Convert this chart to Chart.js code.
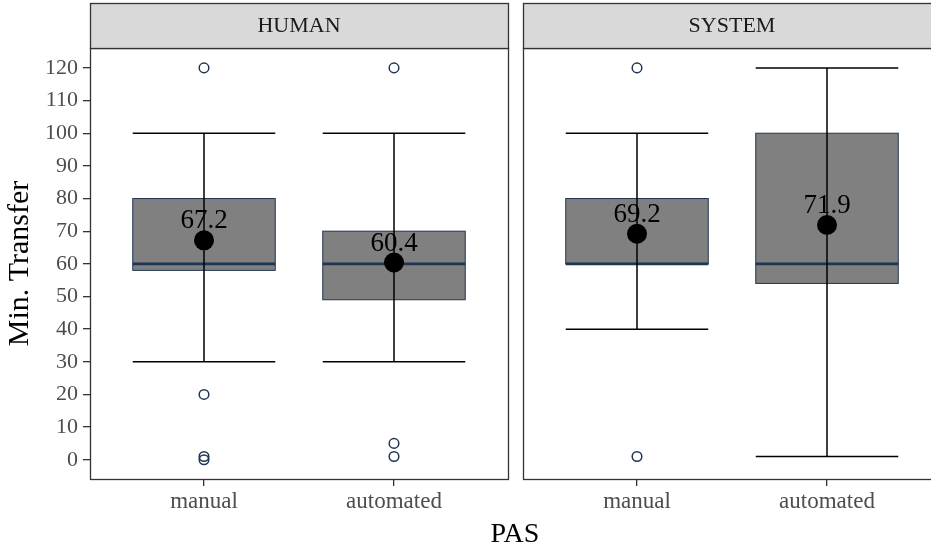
<!DOCTYPE html>
<html>
<head>
<meta charset="utf-8">
<script src="https://cdn.jsdelivr.net/npm/chart.js@4/dist/chart.umd.min.js"></script>
<style>
  html, body { margin: 0; padding: 0; background: #fff; overflow: hidden; }
  #wrap { position: relative; width: 931px; height: 548px; overflow: hidden; }
  .panel { position: absolute; top: 0; height: 548px; }
  #p1 { left: 0; width: 515px; }
  #p2 { left: 515px; width: 433px; }
  #xtitle { position: absolute; left: 415px; width: 200px; top: 519px; text-align: center;
    font: 28px 'Liberation Serif', 'DejaVu Serif', serif; line-height: 27px; color: #000; }
</style>
</head>
<body>
<div id="wrap">
  <div class="panel" id="p1"><canvas id="c1"></canvas></div>
  <div class="panel" id="p2"><canvas id="c2"></canvas></div>
  <div id="xtitle">PAS</div>
</div>
<script>
// facets and categories
const panels = ['HUMAN', 'SYSTEM'];
const categories = ['manual', 'automated'];
const yTicks = [0, 10, 20, 30, 40, 50, 60, 70, 80, 90, 100, 110, 120];

// box stats per panel, per category
const whiskerLow  = [[30, 30], [40, 1]];
const q1          = [[58, 49], [60, 54]];
const medians     = [[60, 60], [60, 60]];
const q3          = [[80, 70], [80, 100]];
const whiskerHigh = [[100, 100], [100, 120]];
const means       = [[67.2, 60.4], [69.2, 71.9]];
const outliers    = [[[120, 20, 1, 0], [120, 5, 1]], [[120, 1], []]];

const serif = "'Liberation Serif', 'DejaVu Serif', serif";
Chart.defaults.font.family = serif;

const navy = '#1F3552';
const boxHalf = 0.375;

const facetPlugin = {
  id: 'facet',
  beforeDatasetsDraw(chart) {
    const p = chart.options.plugins.facet.panel;
    const ctx = chart.ctx;
    const xs = chart.scales.x, ys = chart.scales.y;
    ctx.save();
    categories.forEach((c, i) => {
      const x = i + 1;
      const l = xs.getPixelForValue(x - boxHalf), r = xs.getPixelForValue(x + boxHalf);
      const cx = xs.getPixelForValue(x);
      const top = ys.getPixelForValue(q3[p][i]), bot = ys.getPixelForValue(q1[p][i]);
      // box
      ctx.fillStyle = '#808080';
      ctx.fillRect(l, top, r - l, bot - top);
      ctx.strokeStyle = navy;
      ctx.lineWidth = 1;
      ctx.strokeRect(l, top, r - l, bot - top);
      // median
      const my = ys.getPixelForValue(medians[p][i]);
      ctx.lineWidth = 2.6;
      ctx.beginPath(); ctx.moveTo(l, my); ctx.lineTo(r, my); ctx.stroke();
      // error bar
      const wl = ys.getPixelForValue(whiskerLow[p][i]), wh = ys.getPixelForValue(whiskerHigh[p][i]);
      ctx.strokeStyle = '#000';
      ctx.lineWidth = 1.5;
      ctx.beginPath();
      ctx.moveTo(cx, wl); ctx.lineTo(cx, wh);
      ctx.moveTo(l, wl); ctx.lineTo(r, wl);
      ctx.moveTo(l, wh); ctx.lineTo(r, wh);
      ctx.stroke();
    });
    ctx.restore();
  },
  afterDatasetsDraw(chart) {
    const p = chart.options.plugins.facet.panel;
    const ctx = chart.ctx;
    const xs = chart.scales.x, ys = chart.scales.y;
    const a = chart.chartArea;
    ctx.save();
    // mean labels
    ctx.fillStyle = '#000';
    ctx.font = '27px ' + serif;
    ctx.textAlign = 'center';
    ctx.textBaseline = 'alphabetic';
    categories.forEach((c, i) => {
      const x = xs.getPixelForValue(i + 1);
      const y = ys.getPixelForValue(means[p][i]);
      ctx.fillText(means[p][i].toFixed(1), x, y - 12);
    });
    // panel border
    ctx.strokeStyle = '#333';
    ctx.lineWidth = 1.3;
    ctx.strokeRect(Math.round(a.left) + 0.5, Math.round(a.top) + 0.5,
      Math.round(a.right - a.left), Math.round(a.bottom - a.top));
    // strip
    const st = 3;
    ctx.fillStyle = '#d9d9d9';
    ctx.fillRect(a.left, st, a.right - a.left, a.top - st);
    ctx.strokeRect(Math.round(a.left) + 0.5, st + 0.5, Math.round(a.right - a.left), Math.round(a.top - st));
    ctx.fillStyle = '#1a1a1a';
    ctx.font = '22px ' + serif;
    ctx.textBaseline = 'middle';
    ctx.fillText(panels[p], (a.left + a.right) / 2, (st + a.top) / 2 + 1);
    ctx.restore();
  }
};

function makeChart(id, p, showY) {
  const outlierPts = [];
  categories.forEach((c, i) => outliers[p][i].forEach(v => outlierPts.push({ x: i + 1, y: v })));
  const meanPts = categories.map((c, i) => ({ x: i + 1, y: means[p][i] }));
  return new Chart(document.getElementById(id), {
    type: 'scatter',
    data: {
      datasets: [
        { label: 'mean', data: meanPts, pointRadius: 10, pointBackgroundColor: '#000',
          pointBorderColor: '#000', pointBorderWidth: 0 },
        { label: 'outliers', data: outlierPts, pointRadius: 4.8, pointBackgroundColor: 'rgba(0,0,0,0)',
          pointBorderColor: navy, pointBorderWidth: 1.5 }
      ]
    },
    options: {
      responsive: true,
      maintainAspectRatio: false,
      animation: false,
      events: [],
      layout: { autoPadding: false, padding: { top: 48, bottom: 0, left: showY ? 0 : 8, right: 7 } },
      plugins: {
        legend: { display: false },
        tooltip: { enabled: false },
        facet: { panel: p }
      },
      scales: {
        x: {
          type: 'linear',
          min: 0.4,
          max: 2.6,
          afterBuildTicks: s => { s.ticks = categories.map((c, i) => ({ value: i + 1 })); },
          afterFit: s => { s.height = 69; },
          border: { display: false },
          grid: { drawOnChartArea: false, drawTicks: true, tickLength: 7, color: '#333', lineWidth: 1.3 },
          ticks: {
            callback: v => categories[v - 1],
            color: '#4d4d4d',
            font: { size: 23 },
            padding: 2,
            maxRotation: 0,
            autoSkip: false
          }
        },
        y: {
          display: showY,
          min: -5.9,
          max: 126.1,
          afterBuildTicks: s => { s.ticks = yTicks.map(v => ({ value: v })); },
          afterFit: s => { if (showY) s.width = 90; },
          border: { display: false },
          grid: { drawOnChartArea: false, drawTicks: true, tickLength: 7, color: '#333', lineWidth: 1.3 },
          ticks: { color: '#4d4d4d', font: { size: 22 }, padding: 5 },
          title: { display: true, text: 'Min. Transfer', color: '#000', font: { size: 30 }, padding: { top: 2, bottom: 0 } }
        }
      }
    },
    plugins: [facetPlugin]
  });
}

makeChart('c1', 0, true);
makeChart('c2', 1, false);
</script>
</body>
</html>
